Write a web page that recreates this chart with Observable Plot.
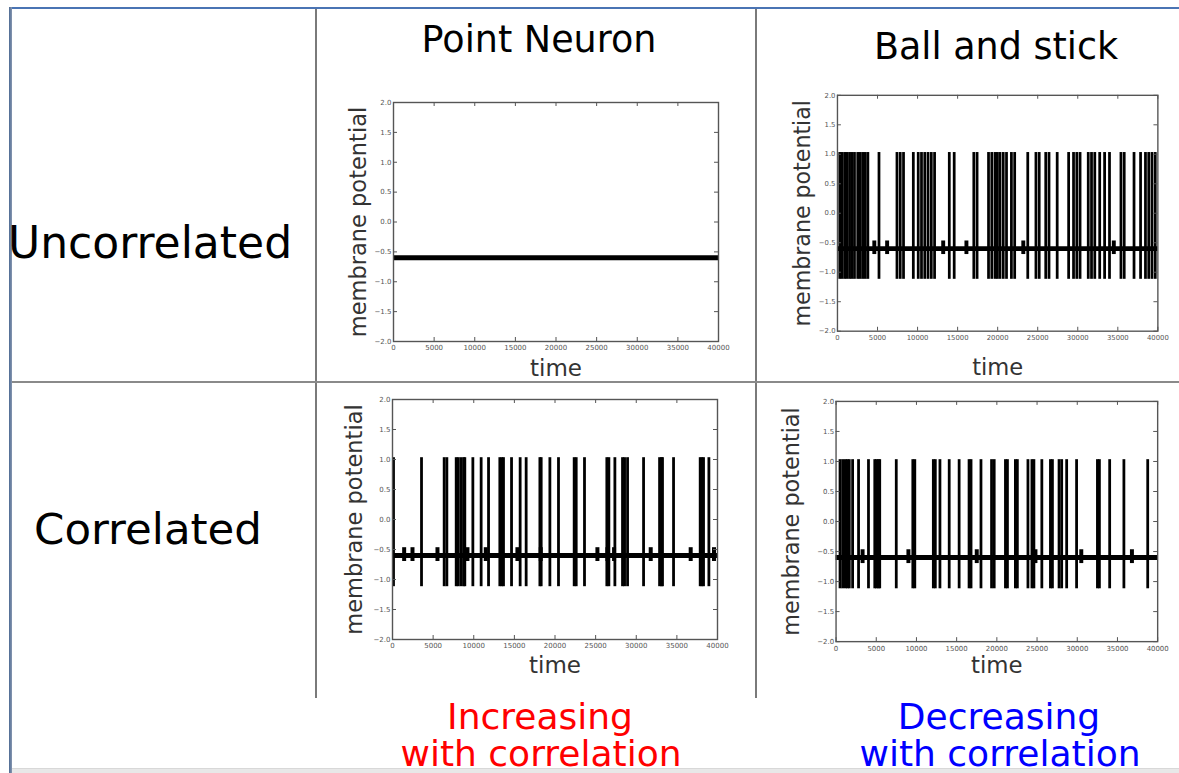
<!DOCTYPE html>
<html><head><meta charset="utf-8">
<script src="https://cdn.jsdelivr.net/npm/d3@7"></script>
<script src="https://cdn.jsdelivr.net/npm/@observablehq/plot@0.6"></script>
<style>
html,body{margin:0;padding:0;background:#fff}
body{width:1179px;height:773px;overflow:hidden;position:relative;font-family:"DejaVu Sans",sans-serif}
.abs{position:absolute}
.lbl{position:absolute;white-space:nowrap;line-height:1;transform:translate(-50%,-50%);color:#000}
</style></head><body>
<div id="root"></div>
<script>
// ---- data ----
const columnTitles = ["Point Neuron", "Ball and stick"];
const rowTitles = ["Uncorrelated", "Correlated"];
const noteLines = [["Increasing", "with correlation"], ["Decreasing", "with correlation"]];
const noteColors = ["#ff0000", "#0000ff"];
const xTicks = [0, 5000, 10000, 15000, 20000, 25000, 30000, 35000, 40000];
const yTicks = [-2.0, -1.5, -1.0, -0.5, 0.0, 0.5, 1.0, 1.5, 2.0];
const restingPotential = -0.6;
const spikePeak = 1.03;
const spikeTrough = -1.12;
// spike times
const spikesPointUncorrelated = [];
const spikesBallUncorrelated = [286, 571, 898, 1184, 1510, 1796, 2123, 2531, 2817, 3143, 3470, 3796, 5184, 7429, 7837, 8246, 9470, 10083, 10491, 10899, 11307, 11715, 12124, 13961, 14573, 17022, 17430, 18859, 19267, 19675, 19961, 20288, 20696, 21104, 21716, 22124, 23757, 24778, 25186, 26002, 26411, 27431, 28860, 29472, 29880, 30288, 31309, 31717, 32125, 32738, 33350, 33962, 35391, 35799, 37024, 37840, 38452, 38860, 39268, 39676];
const spikesPointCorrelated = [123, 3570, 6360, 6690, 7840, 8080, 8410, 8740, 8900, 9890, 10910, 11820, 13210, 13460, 13660, 14650, 15710, 16450, 18140, 18300, 19370, 20430, 22360, 22610, 23630, 26380, 26630, 27370, 28310, 28560, 28930, 30900, 32870, 33110, 33230, 34590, 37870, 38080, 38280, 38940];
const spikesBallCorrelated = [494, 823, 1152, 1399, 1646, 2058, 2798, 4033, 4815, 5020, 5267, 5432, 7489, 9547, 9794, 12098, 12345, 12921, 14073, 15308, 16543, 16789, 18024, 19341, 19670, 21069, 21316, 22303, 22550, 23867, 24361, 24608, 25595, 26665, 26912, 27735, 28064, 28682, 29916, 32509, 32755, 34031, 35801, 38763];
// times where the resting trace swells into a small bump
const bumpsPointCorrelated = [1435, 2460, 5535, 9225, 11480, 15375, 18245, 25220, 26450, 27270, 31780, 36700, 39570];
const bumpsBallCorrelated = [3300, 9000, 17500, 24800, 30500, 36800];
const bumpsBallUncorrelated = [4600, 6200, 13200, 16100, 23200, 34500];

// ---- layout (page chrome) ----
const root = document.getElementById("root");
function box(css) { const d = document.createElement("div"); d.className = "abs"; d.style.cssText = css; root.appendChild(d); return d; }
function label(text, cx, cy, size, color) {
  const d = document.createElement("div"); d.className = "lbl"; d.textContent = text;
  d.style.left = cx + "px"; d.style.top = cy + "px"; d.style.fontSize = size + "px"; d.style.color = color || "#000";
  root.appendChild(d);
}
// bottom strip (behind the texts)
box("left:12px;top:768px;width:1167px;height:5px;background:#e8e8e8;border-top:1px solid #d8d8d8");
// frame borders
box("left:9px;top:7px;width:1170px;height:2px;background:#4a74b4");
box("left:9px;top:7px;width:3px;height:766px;background:linear-gradient(90deg,#4d6a93,#8797b0)");
// grid lines
box("left:315px;top:9px;width:2px;height:689px;background:#7a7a7a");
box("left:755px;top:9px;width:2px;height:689px;background:#7a7a7a");
box("left:12px;top:381px;width:1167px;height:2px;background:#8a8a8a");

label(columnTitles[0], 539, 40, 36.5);
label(columnTitles[1], 996, 47, 36.5);
label(rowTitles[0], 150, 243, 44);
label(rowTitles[1], 148, 530, 43.5);
label(noteLines[0][0], 540, 717, 36, noteColors[0]);
label(noteLines[0][1], 541, 754, 36, noteColors[0]);
label(noteLines[1][0], 999, 717, 36, noteColors[1]);
label(noteLines[1][1], 1000, 754, 36, noteColors[1]);

// ---- panels ----
function panel({spikes, bumps, left, top, W, H, labelGap, timeGap}) {
  const mL = 60, mR = 22, mT = 10, mB = 50;
  const chart = Plot.plot({
    width: W + mL + mR, height: H + mT + mB,
    marginLeft: mL, marginRight: mR, marginTop: mT, marginBottom: mB,
    x: {domain: [0, 40000]},
    y: {domain: [-2, 2]},
    style: {fontFamily: "DejaVu Sans", background: "transparent", overflow: "visible"},
    marks: [
      Plot.ruleY([restingPotential], {stroke: "#000", strokeWidth: 5}),
      Plot.ruleX(bumps, {x: d => d, y1: restingPotential - 0.1, y2: restingPotential + 0.13, stroke: "#000", strokeWidth: 4}),
      Plot.ruleX(spikes, {x: d => d, y1: spikeTrough, y2: spikePeak, stroke: "#000", strokeWidth: 2.8}),
      Plot.frame({stroke: "#555", strokeWidth: 1.4}),
      Plot.ruleX(xTicks, {x: d => d, insetTop: H - 4, stroke: "#555"}),
      Plot.ruleX(xTicks, {x: d => d, insetBottom: H - 4, stroke: "#555"}),
      Plot.ruleY(yTicks, {y: d => d, insetRight: W - 4, stroke: "#555"}),
      Plot.ruleY(yTicks, {y: d => d, insetLeft: W - 4, stroke: "#555"}),
      Plot.axisX(xTicks, {tickSize: 0, tickPadding: 4, fontSize: 7, fill: "#555", tickFormat: d => String(d), label: null}),
      Plot.axisY(yTicks, {tickSize: 0, tickPadding: 2, fontSize: 7, fill: "#555", tickFormat: d3.format(".1f"), label: null}),
      Plot.text(["membrane potential"], {text: d => d, frameAnchor: "left", textAnchor: "middle", lineAnchor: "middle", rotate: -90, dx: -labelGap, fontSize: 22.5, fill: "#333"}),
      Plot.text(["time"], {text: d => d, frameAnchor: "bottom", textAnchor: "middle", lineAnchor: "middle", dy: timeGap, fontSize: 23, fill: "#333"})
    ]
  });
  const holder = box(`left:${left - mL}px;top:${top - mT}px`);
  holder.appendChild(chart);
}
panel({spikes: spikesPointUncorrelated, bumps: [], left: 393, top: 102, W: 325, H: 239, labelGap: 35, timeGap: 27});
panel({spikes: spikesBallUncorrelated, bumps: bumpsBallUncorrelated, left: 838, top: 95, W: 326, H: 240, labelGap: 35, timeGap: 37});
panel({spikes: spikesPointCorrelated, bumps: bumpsPointCorrelated, left: 392, top: 399, W: 325, H: 240, labelGap: 38, timeGap: 26});
panel({spikes: spikesBallCorrelated, bumps: bumpsBallCorrelated, left: 836, top: 401, W: 324, H: 242, labelGap: 45, timeGap: 24});
</script>
</body></html>
